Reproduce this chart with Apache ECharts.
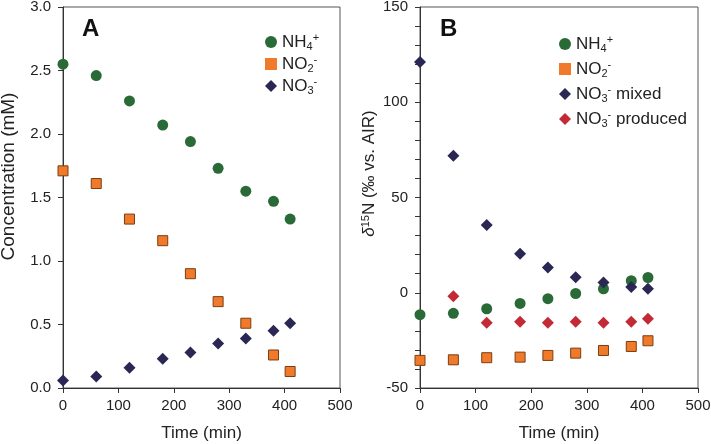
<!DOCTYPE html>
<html>
<head>
<meta charset="utf-8">
<script src="https://cdn.jsdelivr.net/npm/echarts@6/dist/echarts.min.js"></script>
<style>
  html, body { margin: 0; padding: 0; background: #fff; }
  #chart { width: 711px; height: 444px; }
</style>
</head>
<body>
<div id="chart"></div>
<script>
// time points (min)
var times = [0, 60, 120, 180, 230, 280, 330, 380, 410];

// panel A: concentration (mM)
var concNH4 = [2.55, 2.46, 2.26, 2.07, 1.94, 1.73, 1.55, 1.47, 1.33];
var concNO2 = [1.71, 1.61, 1.33, 1.16, 0.90, 0.68, 0.51, 0.26, 0.13];
var concNO3 = [0.06, 0.09, 0.16, 0.23, 0.28, 0.35, 0.39, 0.45, 0.51];

// panel B: d15N (permil vs. AIR)
var dNH4 = [-11.5, -10.8, -8.4, -5.6, -3.1, -0.4, 2.1, 6.3, 8.0];
var dNO2 = [-35.5, -35.2, -34.1, -33.8, -32.9, -31.7, -30.3, -28.2, -25.2];
var dNO3mixed = [121.1, 71.9, 35.5, 20.5, 13.3, 8.2, 5.4, 3.0, 2.1];
var dNO3prod = [null, -1.9, -15.7, -15.2, -15.7, -15.2, -15.7, -15.2, -13.6];

var font = 'Liberation Sans, Arial, sans-serif';
var axisColor = '#333';

var cGreen = '#2a6a37', cOrange = '#f07a2a', cNavy = '#2b2755', cRed = '#c42a35';

function pairs(xs, ys) {
	var out = [];
	for (var i = 0; i < xs.length; i++) {
		if (ys[i] != null) out.push([xs[i], ys[i]]);
	}
	return out;
}

var legendNames = {
	'A_NH4': '{t|NH}{sub|4}{sup|+}',
	'A_NO2': '{t|NO}{sub|2}{sup|-}',
	'A_NO3': '{t|NO}{sub|3}{sup|-}',
	'B_NH4': '{t|NH}{sub|4}{sup|+}',
	'B_NO2': '{t|NO}{sub|2}{sup|-}',
	'B_NO3m': '{t|NO}{sub|3}{sup|-}{t| mixed}',
	'B_NO3p': '{t|NO}{sub|3}{sup|-}{t| produced}'
};

var richText = {
	t: { fontSize: 17, fontFamily: font, color: '#222', lineHeight: 20 },
	sub: { fontSize: 11, fontFamily: font, color: '#222', padding: [9, 0, 0, 0], lineHeight: 20 },
	sup: { fontSize: 11, fontFamily: font, color: '#222', padding: [0, 0, 9, 0], lineHeight: 20 }
};

function xAxisCfg(idx) {
	return {
		type: 'value', gridIndex: idx, min: 0, max: 500, interval: 100,
		name: 'Time (min)', nameLocation: 'middle', nameGap: 37,
		nameTextStyle: { fontSize: 17, fontFamily: font, color: '#222' },
		axisLine: { onZero: false, lineStyle: { color: axisColor, width: 1 } },
		axisTick: { show: true, inside: false, length: 5, lineStyle: { color: axisColor } },
		axisLabel: { fontSize: 15, fontFamily: font, color: '#222', margin: 10 },
		splitLine: { show: false }
	};
}

var option = {
	animation: false,
	backgroundColor: '#fff',
	title: [
		{ text: 'A', left: 77, top: 12, textStyle: { fontSize: 24, fontWeight: 'bold', fontFamily: font, color: '#111' } },
		{ text: 'B', left: 435, top: 12, textStyle: { fontSize: 24, fontWeight: 'bold', fontFamily: font, color: '#111' } }
	],
	grid: [
		{ left: 63, top: 7, width: 277, height: 381, outerBoundsMode: 'none', containLabel: false,
			show: true, borderColor: '#555', borderWidth: 1, backgroundColor: 'transparent' },
		{ left: 420, top: 7, width: 278, height: 381, outerBoundsMode: 'none', containLabel: false,
			show: true, borderColor: '#555', borderWidth: 1, backgroundColor: 'transparent' }
	],
	legend: [
		{
			data: ['A_NH4', 'A_NO2', 'A_NO3'],
			orient: 'vertical', left: 260, top: 27, itemGap: 2,
			itemWidth: 12, itemHeight: 12,
			itemStyle: { borderWidth: 0 },
			formatter: function (name) { return legendNames[name]; },
			textStyle: { rich: richText }
		},
		{
			data: ['B_NH4', 'B_NO2', 'B_NO3m', 'B_NO3p'],
			orient: 'vertical', left: 554, top: 29, itemGap: 5,
			itemWidth: 12, itemHeight: 12,
			itemStyle: { borderWidth: 0 },
			formatter: function (name) { return legendNames[name]; },
			textStyle: { rich: richText }
		}
	],
	xAxis: [xAxisCfg(0), xAxisCfg(1)],
	yAxis: [
		{
			type: 'value', gridIndex: 0, min: 0, max: 3, interval: 0.5,
			name: 'Concentration (mM)', nameLocation: 'middle', nameGap: 45,
			// left padding nudges the rotated title upward, as in the original
			nameTextStyle: { fontSize: 19, fontFamily: font, color: '#222', padding: [0, 0, 0, 42] },
			axisLine: { show: true, onZero: false, lineStyle: { color: axisColor } },
			axisTick: { show: true, inside: false, length: 5, lineStyle: { color: axisColor } },
			axisLabel: { fontSize: 15, fontFamily: font, color: '#222', margin: 12,
				formatter: function (v) { return v.toFixed(1); } },
			splitLine: { show: false }
		},
		{
			// ticks every 10, labels only on the 50s
			type: 'value', gridIndex: 1, min: -50, max: 150, interval: 10,
			name: '{i|δ}{sup|15}{t|N (‰ vs. AIR)}', nameLocation: 'middle', nameGap: 37,
			nameTextStyle: {
				padding: [0, 0, 0, 48],
				rich: {
					i: { fontSize: 17, fontFamily: font, fontStyle: 'italic', color: '#222', lineHeight: 20 },
					sup: { fontSize: 11, fontFamily: font, color: '#222', padding: [0, 0, 8, 0], lineHeight: 20 },
					t: { fontSize: 17, fontFamily: font, color: '#222', lineHeight: 20 }
				}
			},
			axisLine: { show: true, onZero: false, lineStyle: { color: axisColor } },
			axisTick: { show: true, inside: false, length: 5, lineStyle: { color: axisColor } },
			axisLabel: { fontSize: 15, fontFamily: font, color: '#222', margin: 12,
				formatter: function (v) { return (v % 50 === 0) ? String(v) : ''; } },
			splitLine: { show: false }
		}
	],
	series: [
		{ name: 'A_NH4', type: 'scatter', xAxisIndex: 0, yAxisIndex: 0, symbol: 'circle', symbolSize: 11,
			itemStyle: { color: cGreen, opacity: 1 }, data: pairs(times, concNH4) },
		{ name: 'A_NO2', type: 'scatter', xAxisIndex: 0, yAxisIndex: 0, symbol: 'rect', symbolSize: 10,
			itemStyle: { color: cOrange, borderColor: '#7a3e14', borderWidth: 1, opacity: 1 }, data: pairs(times, concNO2) },
		{ name: 'A_NO3', type: 'scatter', xAxisIndex: 0, yAxisIndex: 0, symbol: 'diamond', symbolSize: 12,
			itemStyle: { color: cNavy, opacity: 1 }, data: pairs(times, concNO3) },
		{ name: 'B_NH4', type: 'scatter', xAxisIndex: 1, yAxisIndex: 1, symbol: 'circle', symbolSize: 11,
			itemStyle: { color: cGreen, opacity: 1 }, data: pairs(times, dNH4) },
		{ name: 'B_NO2', type: 'scatter', xAxisIndex: 1, yAxisIndex: 1, symbol: 'rect', symbolSize: 10,
			itemStyle: { color: cOrange, borderColor: '#7a3e14', borderWidth: 1, opacity: 1 }, data: pairs(times, dNO2) },
		{ name: 'B_NO3m', type: 'scatter', xAxisIndex: 1, yAxisIndex: 1, symbol: 'diamond', symbolSize: 12,
			itemStyle: { color: cNavy, opacity: 1 }, data: pairs(times, dNO3mixed) },
		{ name: 'B_NO3p', type: 'scatter', xAxisIndex: 1, yAxisIndex: 1, symbol: 'diamond', symbolSize: 12,
			itemStyle: { color: cRed, opacity: 1 }, data: pairs(times, dNO3prod) }
	]
};

var myChart = echarts.init(document.getElementById('chart'));
myChart.setOption(option);
</script>
</body>
</html>
